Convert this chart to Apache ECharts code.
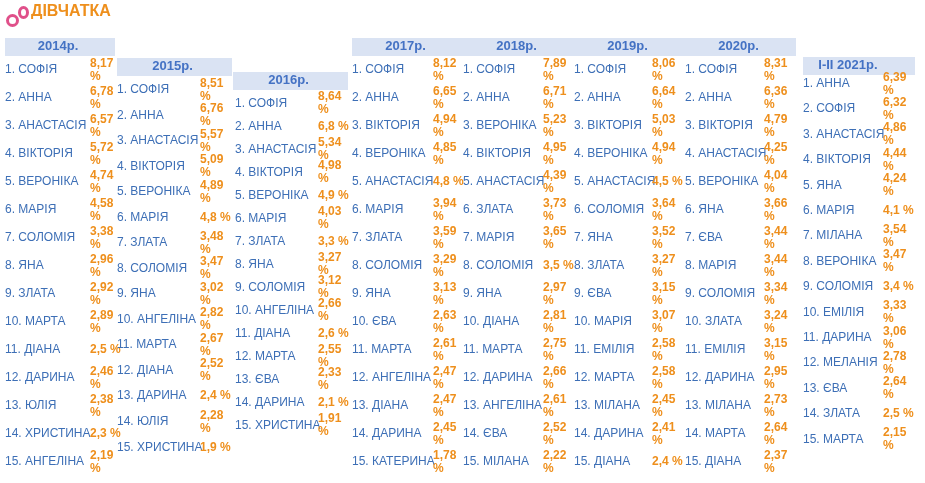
<!DOCTYPE html>
<html><head><meta charset="utf-8">
<script src="https://cdn.jsdelivr.net/npm/echarts@6/dist/echarts.min.js"></script>
<style>html,body{margin:0;padding:0;background:#fff}#c{width:925px;height:483px}</style>
</head><body><div id="c"></div>
<script>
const years = ['2014р.','2015р.','2016р.','2017р.','2018р.','2019р.','2020р.','I-II 2021р.'];
const names2014 = ['СОФІЯ','АННА','АНАСТАСІЯ','ВІКТОРІЯ','ВЕРОНІКА','МАРІЯ','СОЛОМІЯ','ЯНА','ЗЛАТА','МАРТА','ДІАНА','ДАРИНА','ЮЛІЯ','ХРИСТИНА','АНГЕЛІНА'];
const vals2014 = [8.17,6.78,6.57,5.72,4.74,4.58,3.38,2.96,2.92,2.89,2.5,2.46,2.38,2.3,2.19];
const names2015 = ['СОФІЯ','АННА','АНАСТАСІЯ','ВІКТОРІЯ','ВЕРОНІКА','МАРІЯ','ЗЛАТА','СОЛОМІЯ','ЯНА','АНГЕЛІНА','МАРТА','ДІАНА','ДАРИНА','ЮЛІЯ','ХРИСТИНА'];
const vals2015 = [8.51,6.76,5.57,5.09,4.89,4.8,3.48,3.47,3.02,2.82,2.67,2.52,2.4,2.28,1.9];
const names2016 = ['СОФІЯ','АННА','АНАСТАСІЯ','ВІКТОРІЯ','ВЕРОНІКА','МАРІЯ','ЗЛАТА','ЯНА','СОЛОМІЯ','АНГЕЛІНА','ДІАНА','МАРТА','ЄВА','ДАРИНА','ХРИСТИНА'];
const vals2016 = [8.64,6.8,5.34,4.98,4.9,4.03,3.3,3.27,3.12,2.66,2.6,2.55,2.33,2.1,1.91];
const names2017 = ['СОФІЯ','АННА','ВІКТОРІЯ','ВЕРОНІКА','АНАСТАСІЯ','МАРІЯ','ЗЛАТА','СОЛОМІЯ','ЯНА','ЄВА','МАРТА','АНГЕЛІНА','ДІАНА','ДАРИНА','КАТЕРИНА'];
const vals2017 = [8.12,6.65,4.94,4.85,4.8,3.94,3.59,3.29,3.13,2.63,2.61,2.47,2.47,2.45,1.78];
const names2018 = ['СОФІЯ','АННА','ВЕРОНІКА','ВІКТОРІЯ','АНАСТАСІЯ','ЗЛАТА','МАРІЯ','СОЛОМІЯ','ЯНА','ДІАНА','МАРТА','ДАРИНА','АНГЕЛІНА','ЄВА','МІЛАНА'];
const vals2018 = [7.89,6.71,5.23,4.95,4.39,3.73,3.65,3.5,2.97,2.81,2.75,2.66,2.61,2.52,2.22];
const names2019 = ['СОФІЯ','АННА','ВІКТОРІЯ','ВЕРОНІКА','АНАСТАСІЯ','СОЛОМІЯ','ЯНА','ЗЛАТА','ЄВА','МАРІЯ','ЕМІЛІЯ','МАРТА','МІЛАНА','ДАРИНА','ДІАНА'];
const vals2019 = [8.06,6.64,5.03,4.94,4.5,3.64,3.52,3.27,3.15,3.07,2.58,2.58,2.45,2.41,2.4];
const names2020 = ['СОФІЯ','АННА','ВІКТОРІЯ','АНАСТАСІЯ','ВЕРОНІКА','ЯНА','ЄВА','МАРІЯ','СОЛОМІЯ','ЗЛАТА','ЕМІЛІЯ','ДАРИНА','МІЛАНА','МАРТА','ДІАНА'];
const vals2020 = [8.31,6.36,4.79,4.25,4.04,3.66,3.44,3.44,3.34,3.24,3.15,2.95,2.73,2.64,2.37];
const names2021 = ['АННА','СОФІЯ','АНАСТАСІЯ','ВІКТОРІЯ','ЯНА','МАРІЯ','МІЛАНА','ВЕРОНІКА','СОЛОМІЯ','ЕМІЛІЯ','ДАРИНА','МЕЛАНІЯ','ЄВА','ЗЛАТА','МАРТА'];
const vals2021 = [6.39,6.32,4.86,4.44,4.24,4.1,3.54,3.47,3.4,3.33,3.06,2.78,2.64,2.5,2.15];

const allNames = [names2014,names2015,names2016,names2017,names2018,names2019,names2020,names2021];
const allVals = [vals2014,vals2015,vals2016,vals2017,vals2018,vals2019,vals2020,vals2021];

// layout: [nameX, valueX, gridTop, gridHeight, headerX, headerY, headerW]
const layout = [
  [5,90,56,420,5,38,110],
  [117,200,77,383,117,58,115],
  [235,318,92,345,233,72,115],
  [352,433,56,420,352,38,111],
  [463,543,56,420,463,38,111],
  [574,652,56,420,574,38,111],
  [685,764,56,420,685,38,111],
  [803,883,71,381,803,57,112]
];
const BLUE = '#3d6fb6', ORANGE = '#ee8f1c';
function fmt(v){ const s = String(v).replace('.',','); return s.length <= 3 ? s + ' %' : s + '\n%'; }

const grids=[], xAxes=[], yAxes=[], series=[], graphic=[];
layout.forEach((L,i)=>{
  grids.push({left:L[0], top:L[2], width:L[1]-L[0], height:L[3]});
  xAxes.push({gridIndex:i, type:'value', show:false, min:0, max:100});
  const cats = allNames[i].map((n,k)=>(k+1)+'. '+n);
  yAxes.push({gridIndex:i, type:'category', inverse:true, data:cats, position:'left',
    axisLine:{show:false}, axisTick:{show:false}, splitLine:{show:false},
    axisLabel:{inside:true, margin:0, align:'left', color:BLUE, fontSize:12, fontFamily:'Liberation Sans, Arial', interval:0}});
  yAxes.push({gridIndex:i, type:'category', inverse:true, data:allVals[i].map(fmt), position:'right',
    axisLine:{show:false}, axisTick:{show:false}, splitLine:{show:false},
    axisLabel:{margin:0, align:'left', color:ORANGE, fontWeight:'bold', fontSize:12, lineHeight:13, fontFamily:'Liberation Sans, Arial', interval:0}});
  series.push({type:'bar', xAxisIndex:i, yAxisIndex:2*i, data:allVals[i], itemStyle:{color:'rgba(0,0,0,0)'}, silent:true});
  graphic.push({type:'rect', left:L[4], top:L[5], shape:{width:L[6], height:18}, style:{fill:'#dae3f3'}});
  graphic.push({type:'text', left:L[4]+L[6]/2 - years[i].length*3.7, top:L[5]+2, style:{text:years[i], fill:'#4472c4', font:'bold 13px Liberation Sans, Arial'}});
});
// title + icon
graphic.push({type:'ellipse', left:5, top:13, shape:{cx:0,cy:0,rx:5,ry:5}, style:{fill:'none', stroke:'#e0508a', lineWidth:3}});
graphic.push({type:'ellipse', left:17, top:5, shape:{cx:0,cy:0,rx:4,ry:5}, style:{fill:'none', stroke:'#e0508a', lineWidth:3}});
graphic.push({type:'text', left:31, top:4, style:{text:'ДІВЧАТКА', fill:ORANGE, font:'bold 16px Liberation Sans, Arial'}});

const chart = echarts.init(document.getElementById('c'));
chart.setOption({animation:false, grid:grids, xAxis:xAxes, yAxis:yAxes, series, graphic});
</script></body></html>
